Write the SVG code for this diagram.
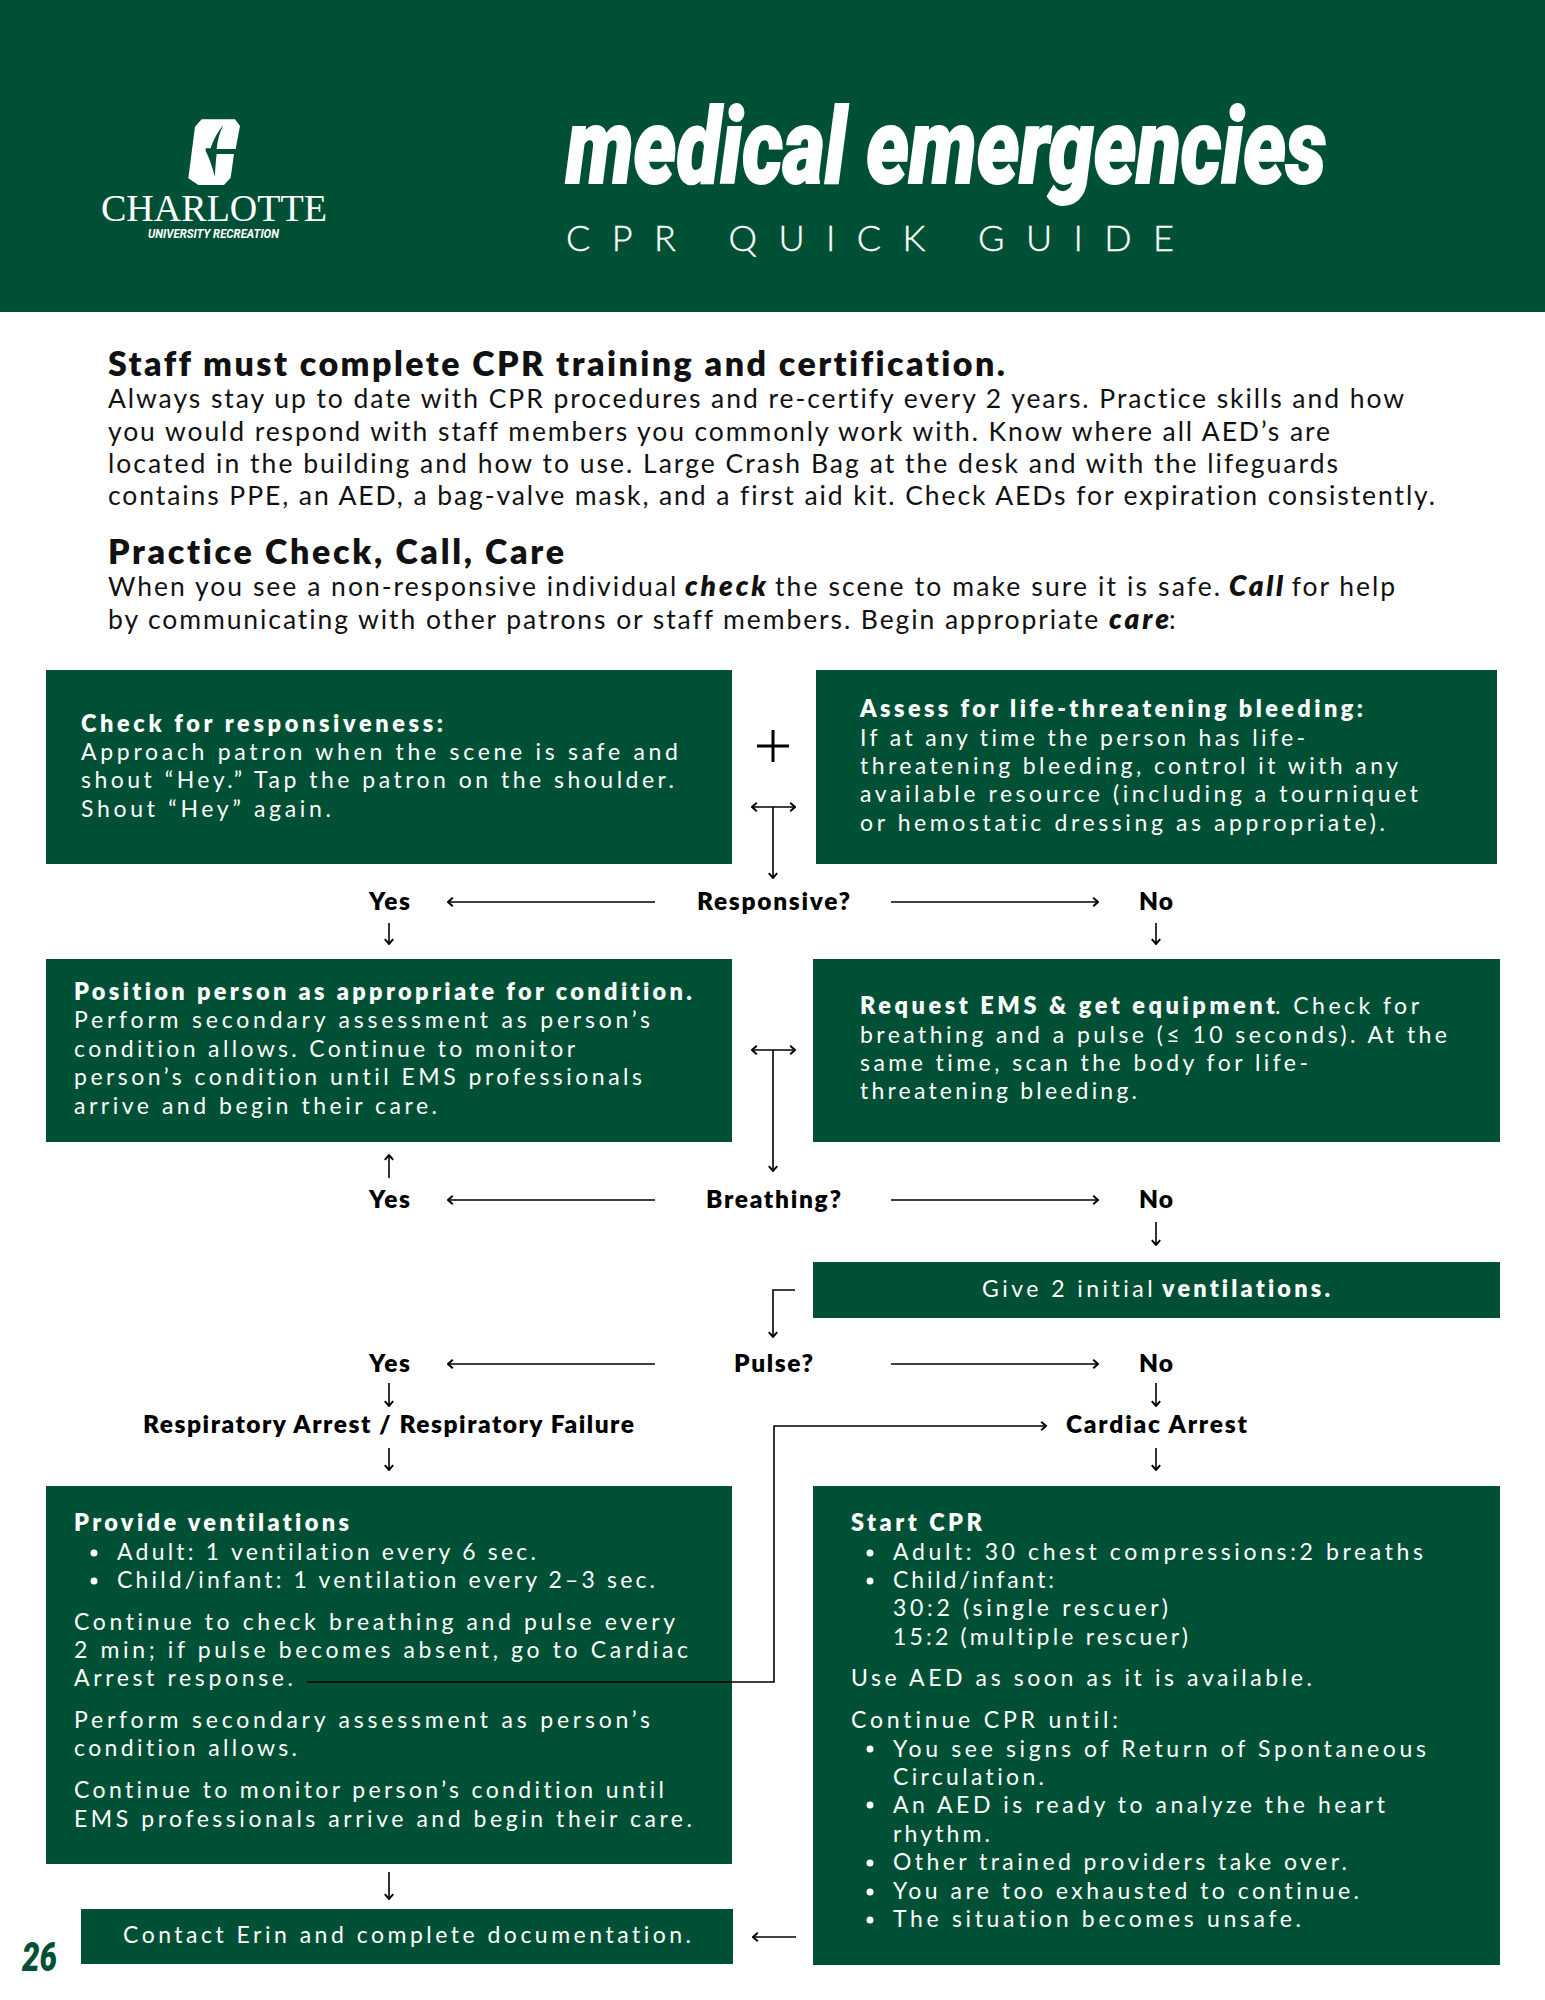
<svg xmlns="http://www.w3.org/2000/svg" width="1545" height="2000" viewBox="0 0 1545 2000">
<style>
text{font-family:"Lato","Liberation Sans",sans-serif;white-space:pre;font-variant-ligatures:none}
.g{fill:#005035}
.b{fill:#fff;font-size:23px}
.bb{fill:#fff;font-size:23.5px;font-weight:800}
.p{fill:#111;font-size:26.5px}
.pi{font-size:28px;font-weight:800;font-style:italic}
.h{fill:#111;font-size:34px;font-weight:800}
.q{fill:#000;font-size:24.5px;font-weight:800}
.c{fill:none;stroke:#000;stroke-width:1.6}
.dot{fill:#fff}
</style>
<defs>
<marker id="ah" markerUnits="userSpaceOnUse" markerWidth="12" markerHeight="12" refX="9" refY="5" orient="auto-start-reverse" viewBox="0 0 10 10"><path d="M5 1.5L9 5L5 8.5" fill="none" stroke="#000" stroke-width="1.6"/></marker>
</defs>
<g id="header">
<rect class="g" width="1545" height="312"/>
<text transform="translate(566 183) scale(.68 1)" font-size="106" font-weight="900" font-style="italic" fill="#fff" stroke="#fff" stroke-width="2" textLength="1118" lengthAdjust="spacingAndGlyphs" style="font-family:Roboto,'Liberation Sans',sans-serif">medical emergencies</text>
<text x="566" y="251" font-size="36" font-weight="300" fill="#fff" stroke="#fff" stroke-width=".4" textLength="608" lengthAdjust="spacing">CPR QUICK GUIDE</text>
<g transform="translate(60 80) scale(.3333)">
<path fill="#fff" d="M405 140L425 118H525L540 138L527 207L522 222L512 293L492 315H415L385 295Z"/>
<path class="g" d="M490 135C470 160 458 185 452 205L437 205L437 212L447 235C455 255 460 275 465 290C466 260 468 240 470 222H530V207H470C472 180 480 155 490 135Z"/>
</g>
<text x="101" y="221" font-size="38" fill="#fff" textLength="226" lengthAdjust="spacingAndGlyphs" style="font-family:'Liberation Serif',serif">CHARLOTTE</text>
<text x="148" y="238" font-size="13" font-weight="700" font-style="italic" fill="#fff" textLength="131" lengthAdjust="spacingAndGlyphs" style="font-family:Roboto,sans-serif">UNIVERSITY RECREATION</text>
</g>
<g id="intro">
<text class="h" x="108" y="376" textLength="897">Staff must complete CPR training and certification.</text>
<text class="p" x="108" y="408" textLength="1296">Always stay up to date with CPR procedures and re-certify every 2 years. Practice skills and how</text>
<text class="p" x="108" y="441" textLength="1222">you would respond with staff members you commonly work with. Know where all AED’s are</text>
<text class="p" x="108" y="473" textLength="1230">located in the building and how to use. Large Crash Bag at the desk and with the lifeguards</text>
<text class="p" x="108" y="505" textLength="1327">contains PPE, an AED, a bag-valve mask, and a first aid kit. Check AEDs for expiration consistently.</text>
<text class="h" x="108" y="564" textLength="456">Practice Check, Call, Care</text>
<text class="p" x="108" y="596"><tspan textLength="577">When you see a non-responsive individual </tspan><tspan class="pi" x="685" textLength="81">check</tspan><tspan x="766" textLength="463"> the scene to make sure it is safe. </tspan><tspan class="pi" x="1229" textLength="54">Call</tspan><tspan x="1283" textLength="112"> for help</tspan></text>
<text class="p" x="108" y="629"><tspan textLength="999">by communicating with other patrons or staff members. Begin appropriate </tspan><tspan class="pi" x="1109" textLength="60">care</tspan><tspan x="1169">:</tspan></text>
</g>
<g id="box-check">
<rect class="g" x="46" y="670" width="686" height="194"/>
<text class="bb" x="81" y="732" textLength="362">Check for responsiveness:</text>
<text class="b" x="81" y="760" textLength="597">Approach patron when the scene is safe and</text>
<text class="b" x="81" y="788" textLength="593">shout “Hey.” Tap the patron on the shoulder.</text>
<text class="b" x="81" y="817" textLength="250">Shout “Hey” again.</text>
</g>
<g id="box-bleeding">
<rect class="g" x="816" y="670" width="681" height="194"/>
<text class="bb" x="860" y="717" textLength="503">Assess for life-threatening bleeding:</text>
<text class="b" x="860" y="746" textLength="445">If at any time the person has life-</text>
<text class="b" x="860" y="774" textLength="538">threatening bleeding, control it with any</text>
<text class="b" x="860" y="802" textLength="558">available resource (including a tourniquet</text>
<text class="b" x="860" y="831" textLength="525">or hemostatic dressing as appropriate).</text>
</g>
<g id="box-position">
<rect class="g" x="46" y="959" width="686" height="183"/>
<text class="bb" x="74" y="1000" textLength="618">Position person as appropriate for condition.</text>
<text class="b" x="74" y="1028" textLength="576">Perform secondary assessment as person’s</text>
<text class="b" x="74" y="1057" textLength="501">condition allows. Continue to monitor</text>
<text class="b" x="74" y="1085" textLength="568">person’s condition until EMS professionals</text>
<text class="b" x="74" y="1114" textLength="363">arrive and begin their care.</text>
</g>
<g id="box-request">
<rect class="g" x="813" y="959" width="687" height="183"/>
<text class="b" x="860" y="1014"><tspan class="bb" textLength="415">Request EMS &amp; get equipment</tspan><tspan x="1275" textLength="144">. Check for</tspan></text>
<text class="b" x="860" y="1043" textLength="587">breathing and a pulse (≤ 10 seconds). At the</text>
<text class="b" x="860" y="1071" textLength="448">same time, scan the body for life-</text>
<text class="b" x="860" y="1099" textLength="277">threatening bleeding.</text>
</g>
<g id="box-give">
<rect class="g" x="813" y="1262" width="687" height="56"/>
<text class="b" x="982" y="1297"><tspan textLength="180">Give 2 initial </tspan><tspan class="bb" x="1162" textLength="168">ventilations.</tspan></text>
</g>
<g id="box-ventilations">
<rect class="g" x="46" y="1486" width="686" height="378"/>
<text class="bb" x="74" y="1531" textLength="275">Provide ventilations</text>
<circle class="dot" cx="94" cy="1553" r="3.5"/><text class="b" x="117" y="1560" textLength="419">Adult: 1 ventilation every 6 sec.</text>
<circle class="dot" cx="94" cy="1581" r="3.5"/><text class="b" x="117" y="1588" textLength="538">Child/infant: 1 ventilation every 2–3 sec.</text>
<text class="b" x="74" y="1630" textLength="601">Continue to check breathing and pulse every</text>
<text class="b" x="74" y="1658" textLength="614">2 min; if pulse becomes absent, go to Cardiac</text>
<text class="b" x="74" y="1686" textLength="219">Arrest response.</text>
<text class="b" x="74" y="1728" textLength="576">Perform secondary assessment as person’s</text>
<text class="b" x="74" y="1756" textLength="223">condition allows.</text>
<text class="b" x="74" y="1798" textLength="590">Continue to monitor person’s condition until</text>
<text class="b" x="74" y="1827" textLength="618">EMS professionals arrive and begin their care.</text>
</g>
<g id="box-cpr">
<rect class="g" x="813" y="1486" width="687" height="479"/>
<text class="bb" x="851" y="1531" textLength="131">Start CPR</text>
<circle class="dot" cx="870" cy="1553" r="3.5"/><text class="b" x="893" y="1560" textLength="530">Adult: 30 chest compressions:2 breaths</text>
<circle class="dot" cx="870" cy="1581" r="3.5"/><text class="b" x="893" y="1588" textLength="161">Child/infant:</text>
<text class="b" x="893" y="1616" textLength="275">30:2 (single rescuer)</text>
<text class="b" x="893" y="1645" textLength="295">15:2 (multiple rescuer)</text>
<text class="b" x="851" y="1686" textLength="461">Use AED as soon as it is available.</text>
<text class="b" x="851" y="1728" textLength="267">Continue CPR until:</text>
<circle class="dot" cx="870" cy="1749" r="3.5"/><text class="b" x="893" y="1757" textLength="533">You see signs of Return of Spontaneous</text>
<text class="b" x="893" y="1785" textLength="151">Circulation.</text>
<circle class="dot" cx="870" cy="1805" r="3.5"/><text class="b" x="893" y="1813" textLength="492">An AED is ready to analyze the heart</text>
<text class="b" x="893" y="1842" textLength="97">rhythm.</text>
<circle class="dot" cx="870" cy="1863" r="3.5"/><text class="b" x="893" y="1870" textLength="454">Other trained providers take over.</text>
<circle class="dot" cx="870" cy="1892" r="3.5"/><text class="b" x="893" y="1899" textLength="466">You are too exhausted to continue.</text>
<circle class="dot" cx="870" cy="1920" r="3.5"/><text class="b" x="893" y="1927" textLength="408">The situation becomes unsafe.</text>
</g>
<g id="box-contact">
<rect class="g" x="81" y="1909" width="652" height="55"/>
<text class="b" x="123" y="1943" textLength="568">Contact Erin and complete documentation.</text>
</g>
<g id="labels">
<text class="q" x="697" y="910" textLength="153">Responsive?</text>
<text class="q" x="369" y="910" textLength="41">Yes</text>
<text class="q" x="1139" y="910" textLength="34">No</text>
<text class="q" x="706" y="1208" textLength="135">Breathing?</text>
<text class="q" x="369" y="1208" textLength="41">Yes</text>
<text class="q" x="1139" y="1208" textLength="34">No</text>
<text class="q" x="734" y="1372" textLength="79">Pulse?</text>
<text class="q" x="369" y="1372" textLength="41">Yes</text>
<text class="q" x="1139" y="1372" textLength="34">No</text>
<text class="q" x="143" y="1433" textLength="491">Respiratory Arrest / Respiratory Failure</text>
<text class="q" x="1066" y="1433" textLength="181">Cardiac Arrest</text>
</g>
<g id="connectors">
<path d="M757 746H789M773 730V762" fill="none" stroke="#000" stroke-width="3"/>
<path class="c" d="M752 807H795" marker-start="url(#ah)" marker-end="url(#ah)"/>
<path class="c" d="M773 807V878" marker-end="url(#ah)"/>
<path class="c" d="M655 902H448" marker-end="url(#ah)"/>
<path class="c" d="M891 902H1098" marker-end="url(#ah)"/>
<path class="c" d="M389 923V944" marker-end="url(#ah)"/>
<path class="c" d="M1156 923V944" marker-end="url(#ah)"/>
<path class="c" d="M752 1050H795" marker-start="url(#ah)" marker-end="url(#ah)"/>
<path class="c" d="M773 1050V1171" marker-end="url(#ah)"/>
<path class="c" d="M655 1200H448" marker-end="url(#ah)"/>
<path class="c" d="M891 1200H1098" marker-end="url(#ah)"/>
<path class="c" d="M389 1178V1155" marker-end="url(#ah)"/>
<path class="c" d="M1156 1222V1245" marker-end="url(#ah)"/>
<path class="c" d="M795 1290H773V1337" marker-end="url(#ah)"/>
<path class="c" d="M655 1364H448" marker-end="url(#ah)"/>
<path class="c" d="M891 1364H1098" marker-end="url(#ah)"/>
<path class="c" d="M389 1383V1406" marker-end="url(#ah)"/>
<path class="c" d="M1156 1383V1406" marker-end="url(#ah)"/>
<path class="c" d="M389 1448V1470" marker-end="url(#ah)"/>
<path class="c" d="M1156 1448V1470" marker-end="url(#ah)"/>
<path class="c" d="M307 1682H774V1426H1046" marker-end="url(#ah)"/>
<path class="c" d="M389 1872V1899" marker-end="url(#ah)"/>
<path class="c" d="M796 1937H753" marker-end="url(#ah)"/>
</g>
<text id="page" x="22" y="1971" font-size="40" font-weight="900" font-style="italic" fill="#005035" textLength="35" lengthAdjust="spacingAndGlyphs" style="font-family:Roboto,sans-serif">26</text>
</svg>
